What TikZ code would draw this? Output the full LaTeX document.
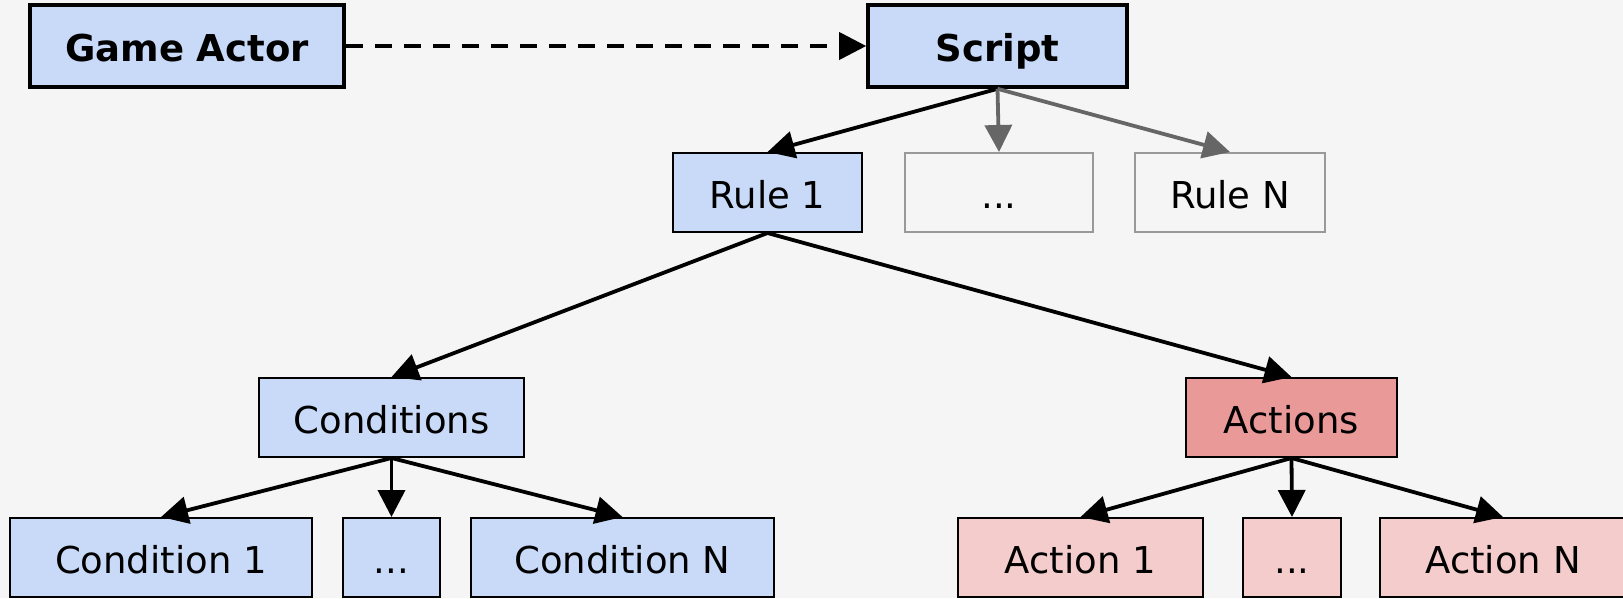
\documentclass[tikz,border=0pt]{standalone}
\usepackage{fontspec}
\setmainfont{DejaVu Sans}
\usetikzlibrary{arrows.meta}
\definecolor{bgc}{HTML}{F5F5F5}
\definecolor{bluef}{HTML}{C9DAF8}
\definecolor{redf}{HTML}{EA9999}
\definecolor{pinkf}{HTML}{F4CCCC}
\definecolor{grayb}{HTML}{999999}
\definecolor{graya}{HTML}{666666}
\tikzset{
  box/.style={draw=black, line width=2pt, inner sep=0pt, anchor=center,
    minimum height=79pt, text height=31.5pt, text depth=0pt,
    font=\fontsize{37}{44}\selectfont},
  thickbox/.style={box, line width=3.6pt, minimum height=82pt,
    font=\fontsize{37}{44}\selectfont\bfseries},
  bluebox/.style={box, fill=bluef},
  pinkbox/.style={box, fill=pinkf},
  redbox/.style={box, fill=redf},
  ghostbox/.style={box, draw=grayb, fill=bgc},
  conn/.style={line width=3.8pt, -{Triangle[length=27pt,width=27pt]}},
  gconn/.style={conn, draw=graya, -{Triangle[length=27pt,width=27pt,fill=graya]}},
}
\begin{document}
\begin{tikzpicture}[x=1pt,y=-1pt]
\fill[bgc] (0,0) rectangle (1623,598);
\useasboundingbox (0,0) rectangle (1623,598);
% top row
\node[thickbox, fill=bluef, minimum width=314pt] (ga) at (187,46) {Game Actor};
\node[thickbox, fill=bluef, minimum width=259pt] (script) at (997.5,46) {Script};
% rules
\node[bluebox, minimum width=189pt] (r1) at (767.5,192.5) {Rule 1};
\node[ghostbox, minimum width=188pt] (rd) at (999,192.5) {...};
\node[ghostbox, minimum width=190pt] (rN) at (1230,192.5) {Rule N};
% middle
\node[bluebox, minimum width=265pt] (cond) at (391.5,417.5) {Conditions};
\node[redbox, minimum width=211pt] (act) at (1291.5,417.5) {Actions};
% bottom
\node[bluebox, minimum width=302pt] (c1) at (161,557.5) {Condition 1};
\node[bluebox, minimum width=97pt] (cd) at (391.5,557.5) {...};
\node[bluebox, minimum width=303pt] (cN) at (622.5,557.5) {Condition N};
\node[pinkbox, minimum width=245pt] (a1) at (1080.5,557.5) {Action 1};
\node[pinkbox, minimum width=98pt] (ad) at (1292,557.5) {...};
\node[pinkbox, minimum width=246pt] (aN) at (1503,557.5) {Action N};
% connectors
\draw[conn, dash pattern=on 17pt off 12pt] (ga.east) -- (script.west);
\draw[conn] (script.south) -- (r1.north);
\draw[gconn] (script.south) -- (rd.north);
\draw[gconn] (script.south) -- (rN.north);
\draw[conn] (r1.south) -- (cond.north);
\draw[conn] (r1.south) -- (act.north);
\draw[conn] (cond.south) -- (c1.north);
\draw[conn] (cond.south) -- (cd.north);
\draw[conn] (cond.south) -- (cN.north);
\draw[conn] (act.south) -- (a1.north);
\draw[conn] (act.south) -- (ad.north);
\draw[conn] (act.south) -- (aN.north);
\end{tikzpicture}
\end{document}
